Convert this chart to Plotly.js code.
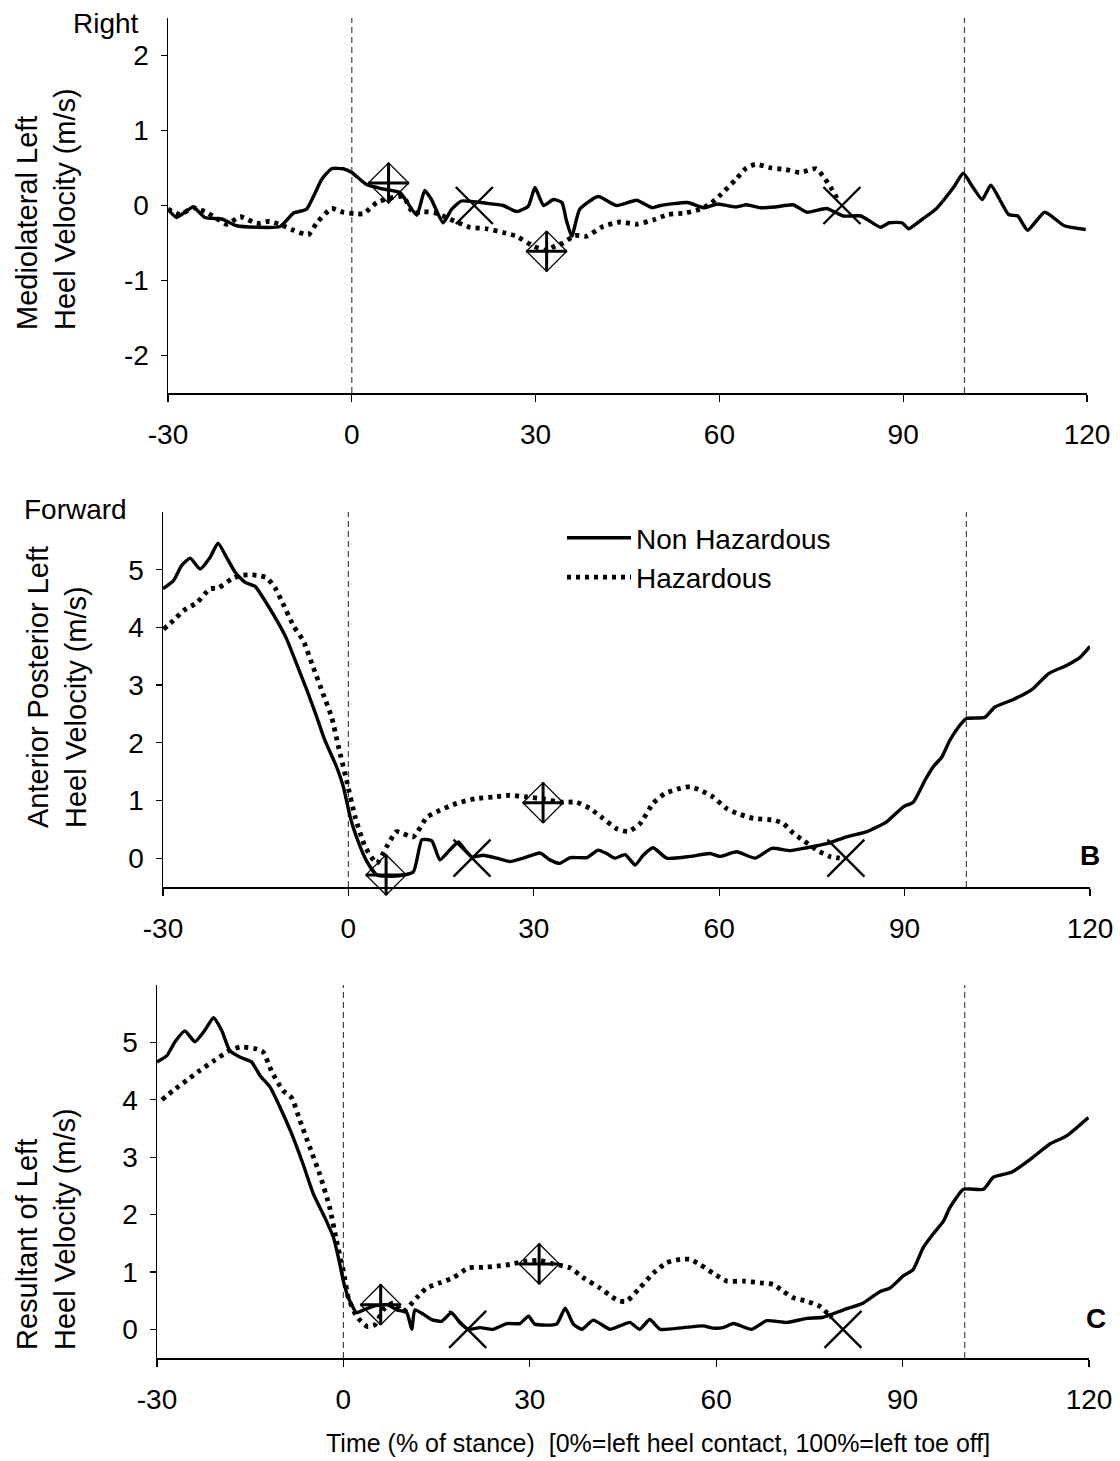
<!DOCTYPE html>
<html>
<head>
<meta charset="utf-8">
<script src="https://cdn.plot.ly/plotly-3.0.1.min.js"></script>
<style>html,body{margin:0;padding:0;background:#fff;}#chart{width:1120px;height:1461px;}</style>
</head>
<body>
<div id="chart"></div>
<script>
// ---------- DATA ----------
const xTicks = [-30, 0, 30, 60, 90, 120];
const seriesNames = ["Non Hazardous", "Hazardous"];

// Panel A: mediolateral
const A_non_x = [-30,-28.6,-25.9,-24.0,-21.2,-18.8,-11.7,-9.5,-7.4,-4.9,-3.3,-1.4,0.0,2.4,5.1,7.9,10.6,11.9,13.0,14.9,16.3,17.9,22.0,24.7,26.9,28.8,29.9,31.3,32.9,34.3,35.0,35.9,37.2,40.2,43.2,46.5,49.0,50.4,54.8,57.4,59.7,62.7,64.4,66.7,69.1,72.0,74.3,77.5,80.2,83.1,86.3,87.7,89.8,90.9,93.0,95.3,98.2,99.8,101.4,102.9,104.3,107.2,108.7,110.3,113.1,116.3,119.8];
const A_non_y = [-0.05,-0.16,-0.02,-0.16,-0.18,-0.27,-0.28,-0.10,-0.05,0.35,0.49,0.49,0.44,0.28,0.22,0.17,-0.13,0.20,0.08,-0.23,-0.05,0.06,0.03,0.00,-0.08,-0.01,0.24,0.00,0.08,0.04,-0.19,-0.41,-0.05,0.12,0.00,0.07,-0.03,0.00,0.04,-0.03,0.02,-0.02,0.01,-0.03,-0.02,0.01,-0.09,-0.04,-0.14,-0.14,-0.29,-0.23,-0.23,-0.31,-0.19,-0.05,0.24,0.43,0.24,0.08,0.27,-0.12,-0.14,-0.33,-0.09,-0.27,-0.32];
const A_haz_x = [-30,-28.0,-25.9,-24.0,-22.1,-20.4,-18.2,-15.5,-13.4,-11.2,-9.5,-7.1,-5.7,-3.3,-1.4,0.5,1.9,4.1,6.2,8.4,10.0,11.7,13.6,14.9,16.8,19.3,22.0,24.7,26.9,29.6,31.8,33.2,34.5,36.4,38.3,41.0,43.8,46.5,49.3,51.6,54.5,56.8,58.3,60.3,62.7,64.4,65.9,68.5,70.8,73.1,75.8,77.2,78.4,79.5];
const A_haz_y = [-0.05,-0.12,-0.03,-0.08,-0.17,-0.25,-0.15,-0.24,-0.21,-0.27,-0.33,-0.39,-0.23,-0.04,-0.09,-0.11,-0.11,0.04,0.10,0.12,-0.10,-0.08,-0.10,-0.14,-0.21,-0.29,-0.31,-0.36,-0.41,-0.54,-0.60,-0.54,-0.50,-0.40,-0.41,-0.28,-0.22,-0.25,-0.19,-0.12,-0.10,-0.05,0.01,0.15,0.35,0.50,0.55,0.50,0.48,0.44,0.49,0.36,0.21,0.05];
const A_peak_x = [6.0, 31.8];
const A_peak_y = [0.30, -0.61];
const A_end_x = [20, 80];
const A_end_y = [0, 0];

// Panel B: anterior posterior
const B_non_x = [-30,-28.3,-27.0,-25.6,-24.0,-22.4,-21.1,-19.7,-18.3,-16.7,-15.1,-13.2,-11.1,-10.0,-8.4,-6.7,-5.1,-3.8,-1.9,-0.8,0.3,1.3,3.0,4.6,7.8,10.5,11.9,13.5,14.8,16.4,17.8,18.9,20.0,21.8,24.0,26.1,28.3,31.0,32.6,34.2,35.9,38.6,40.4,41.8,43.1,44.8,46.4,47.7,49.3,51.5,55.3,58.5,60.1,62.8,65.8,68.5,71.5,74.2,77.4,80.6,83.9,87.1,89.8,91.4,93.3,94.6,96.0,97.3,98.7,100.0,103.0,104.6,107.6,110.8,113.3,116.2,118.4,120];
const B_non_y = [4.67,4.81,5.07,5.20,5.01,5.21,5.46,5.21,4.95,4.78,4.71,4.41,4.03,3.80,3.37,2.91,2.44,2.04,1.58,1.23,0.71,0.37,-0.06,-0.29,-0.31,-0.24,0.32,0.30,-0.03,0.14,0.28,0.14,0.02,0.05,0.00,-0.06,0.00,0.09,-0.03,-0.09,0.01,0.01,0.14,0.08,0.00,0.06,-0.12,0.05,0.18,0.00,0.03,0.08,0.03,0.11,0.00,0.17,0.13,0.18,0.25,0.37,0.46,0.63,0.89,0.97,1.35,1.58,1.75,2.04,2.27,2.42,2.44,2.62,2.75,2.94,3.20,3.34,3.48,3.67];
const B_haz_x = [-29.9,-28.3,-26.7,-24.5,-22.4,-21.1,-18.9,-17.5,-15.9,-14.6,-13.2,-11.9,-10.8,-8.9,-7.3,-5.7,-4.1,-2.7,-1.6,-0.3,1.1,2.7,4.6,6.2,7.8,10.5,12.7,14.8,17.5,20.5,23.4,26.1,28.9,31.5,34.2,36.9,39.1,41.2,43.4,45.3,47.2,49.3,51.2,53.7,55.3,56.9,59.0,61.2,62.8,65.5,68.8,70.4,72.0,73.6,75.8,77.9,79.5];
const B_haz_y = [3.97,4.12,4.29,4.43,4.67,4.68,4.84,4.90,4.91,4.90,4.86,4.69,4.46,4.03,3.77,3.31,2.85,2.44,1.93,1.35,0.71,0.20,-0.09,0.20,0.46,0.37,0.71,0.83,0.95,1.03,1.06,1.09,1.06,1.03,0.97,0.97,0.86,0.69,0.51,0.46,0.60,0.95,1.12,1.21,1.24,1.18,1.06,0.86,0.78,0.69,0.66,0.60,0.43,0.31,0.14,0.03,0.00];
const B_peak_x = [6.1, 31.5];
const B_peak_y = [-0.29, 0.96];
const B_end_x = [20, 80.5];
const B_end_y = [0, 0];

// Panel C: resultant
const C_non_x = [-30,-28.4,-27.1,-25.5,-23.9,-22.3,-20.9,-19.6,-18.3,-16.6,-14.8,-13.4,-11.8,-10.2,-8.3,-6.5,-4.8,-3.0,-1.6,-0.8,0.0,0.8,2.1,2.9,4.8,7.0,8.6,10.2,11.0,11.5,12.9,14.2,15.8,17.4,18.8,20.1,22.0,24.1,26.3,28.4,29.8,30.8,34.3,35.7,37.0,38.4,40.2,42.9,44.5,46.1,47.7,49.3,51.0,54.7,57.9,59.5,61.1,62.8,65.7,68.1,71.4,74.6,77.2,80.5,83.7,86.4,88.0,90.1,91.7,93.3,94.9,96.6,97.6,99.8,103.0,104.6,107.6,111.0,113.7,116.4,119.9];
const C_non_y = [4.66,4.77,5.01,5.20,5.01,5.21,5.43,5.21,4.86,4.74,4.66,4.42,4.22,3.87,3.40,2.88,2.35,1.95,1.60,1.25,0.84,0.55,0.29,0.32,0.40,0.43,0.34,0.29,0.00,0.34,0.26,0.17,0.14,0.29,0.11,0.00,0.03,0.00,0.10,0.10,0.23,0.09,0.09,0.37,0.09,0.00,0.16,0.00,0.06,0.12,0.00,0.17,0.00,0.03,0.06,0.02,0.03,0.10,0.00,0.15,0.12,0.19,0.21,0.34,0.46,0.66,0.72,0.93,1.04,1.42,1.66,1.89,2.12,2.44,2.44,2.65,2.74,3.00,3.23,3.37,3.69];
const C_haz_x = [-29.2,-27.4,-25.2,-23.1,-20.7,-18.3,-16.6,-14.2,-12.9,-11.5,-9.7,-8.3,-7.0,-5.4,-3.8,-2.2,-1.1,0.0,0.8,2.1,3.8,5.1,6.4,8.0,9.6,11.8,13.4,15.5,17.7,20.1,22.5,24.7,26.8,29.5,31.6,33.8,36.5,38.6,41.3,43.3,44.5,45.6,47.7,49.9,52.0,54.2,55.8,57.4,59.5,61.7,64.4,67.1,69.2,70.8,72.4,74.6,76.7,77.8,78.6];
const C_haz_y = [4.00,4.16,4.34,4.51,4.69,4.86,4.92,4.89,4.83,4.48,4.16,4.03,3.64,3.17,2.70,2.12,1.54,1.01,0.55,0.23,0.05,0.08,0.34,0.46,0.31,0.55,0.72,0.81,0.90,1.07,1.08,1.10,1.13,1.19,1.20,1.14,1.07,0.90,0.72,0.56,0.49,0.49,0.72,0.98,1.16,1.22,1.22,1.13,0.98,0.84,0.84,0.81,0.78,0.66,0.55,0.49,0.40,0.29,0.20];
const C_peak_x = [6.0, 31.5];
const C_peak_y = [0.43, 1.14];
const C_end_x = [20, 80.4];
const C_end_y = [0, 0];

const yTitles = ["Mediolateral Left<br>Heel Velocity (m/s)", "Anterior Posterior Left<br>Heel Velocity (m/s)", "Resultant of Left<br>Heel Velocity (m/s)"];
const xTitle = "Time (% of stance)\u00a0 [0%=left heel contact, 100%=left toe off]";
const directionLabels = ["Right", "Forward"];
const panelLabels = ["B", "C"];

// ---------- LAYOUT HELPERS ----------
const W = 1120, H = 1461;
const FONT = "Liberation Sans, Arial, Helvetica, sans-serif";
const fx = p => p / W;
const fy = p => 1 - p / H;

const solidLine = {color: "#000", width: 3.4, shape: "spline", smoothing: 0.5};
const dotLine = {color: "#000", width: 4.8, dash: "4px,5px", shape: "spline", smoothing: 0.5};

const panels = [
  {nx: A_non_x, ny: A_non_y, hx: A_haz_x, hy: A_haz_y, px: A_peak_x, py: A_peak_y, ex: A_end_x, ey: A_end_y},
  {nx: B_non_x, ny: B_non_y, hx: B_haz_x, hy: B_haz_y, px: B_peak_x, py: B_peak_y, ex: B_end_x, ey: B_end_y},
  {nx: C_non_x, ny: C_non_y, hx: C_haz_x, hy: C_haz_y, px: C_peak_x, py: C_peak_y, ex: C_end_x, ey: C_end_y}
];

const traces = [];
panels.forEach((p, i) => {
  const xa = i === 0 ? "x" : "x" + (i + 1);
  const ya = i === 0 ? "y" : "y" + (i + 1);
  traces.push({x: p.nx, y: p.ny, xaxis: xa, yaxis: ya, type: "scatter", mode: "lines",
    name: seriesNames[0], line: solidLine, showlegend: i === 1, legendrank: 1});
  traces.push({x: p.hx, y: p.hy, xaxis: xa, yaxis: ya, type: "scatter", mode: "lines",
    name: seriesNames[1], line: dotLine, showlegend: i === 1, legendrank: 2});
  traces.push({x: p.px, y: p.py, xaxis: xa, yaxis: ya, type: "scatter", mode: "markers",
    showlegend: false, cliponaxis: false, hoverinfo: "skip",
    marker: {symbol: "diamond-open", size: 31, color: "#000", line: {color: "#000", width: 1.3}}});
  traces.push({x: p.px, y: p.py, xaxis: xa, yaxis: ya, type: "scatter", mode: "markers",
    showlegend: false, cliponaxis: false, hoverinfo: "skip",
    marker: {symbol: "cross-thin-open", size: 29, color: "#000", line: {color: "#000", width: 3}}});
  traces.push({x: p.ex, y: p.ey, xaxis: xa, yaxis: ya, type: "scatter", mode: "markers",
    showlegend: false, cliponaxis: false, hoverinfo: "skip",
    marker: {symbol: "x-thin-open", size: 37, color: "#000", line: {color: "#000", width: 2.4}}});
});

// pixel boxes of each plot area [left, right, top, bottom]
const boxes = [[168, 1087, 18, 393], [163, 1090, 512, 887], [157, 1089, 985, 1358]];
const yRanges = [[-2.5, 2.5], [-0.5, 6], [-0.5, 6]];
const yDticks = [1, 1, 1];

function xAxis(i) {
  const b = boxes[i];
  return {
    domain: [fx(b[0]), fx(b[1])], anchor: i === 0 ? "y" : "y" + (i + 1),
    range: [-30, 120], tickvals: xTicks, ticktext: xTicks.map(String),
    showline: true, linecolor: "#000", linewidth: 2,
    ticks: "outside", ticklen: 7, tickwidth: 1.3, tickcolor: "#000",
    ticklabelstandoff: 8,
    tickfont: {family: FONT, size: 28, color: "#000"},
    showgrid: false, zeroline: false, fixedrange: true
  };
}
function yAxis(i) {
  const b = boxes[i];
  const r = yRanges[i];
  const vals = [];
  for (let v = Math.ceil(r[0]); v <= Math.floor(r[1]) - (i === 0 ? 0 : 1); v += yDticks[i]) vals.push(v);
  return {
    domain: [fy(b[3]), fy(b[2])], anchor: i === 0 ? "x" : "x" + (i + 1),
    range: r, tickvals: vals, ticktext: vals.map(String),
    showline: true, linecolor: "#000", linewidth: 1.5,
    ticks: "outside", ticklen: 6, tickwidth: 1.3, tickcolor: "#000",
    ticklabelstandoff: 6,
    tickfont: {family: FONT, size: 28, color: "#000"},
    showgrid: false, zeroline: false, fixedrange: true
  };
}

const shapes = [];
[0, 1, 2].forEach(i => {
  const xa = i === 0 ? "x" : "x" + (i + 1);
  const ya = (i === 0 ? "y" : "y" + (i + 1)) + " domain";
  [0, 100].forEach(v => shapes.push({type: "line", xref: xa, yref: ya, x0: v, x1: v, y0: 0, y1: 1,
    line: {color: "#444", width: 1.2, dash: "6px,4px"}, layer: "below"}));
});

const titleBoxes = [[46, 332], [57, 830], [46, 1352]];
const annotations = [];
yTitles.forEach((t, i) => annotations.push({
  text: t, xref: "paper", yref: "paper", x: fx(titleBoxes[i][0]), y: fy(titleBoxes[i][1]),
  xanchor: "center", yanchor: "bottom", textangle: -90, align: "left", showarrow: false,
  font: {family: FONT, size: 29, color: "#000"}
}));
annotations.push({text: directionLabels[0], xref: "paper", yref: "paper", x: fx(141), y: fy(23),
  xanchor: "right", yanchor: "middle", showarrow: false, font: {family: FONT, size: 28, color: "#000"}});
annotations.push({text: directionLabels[1], xref: "paper", yref: "paper", x: fx(129), y: fy(510),
  xanchor: "right", yanchor: "middle", showarrow: false, font: {family: FONT, size: 28, color: "#000"}});
annotations.push({text: "<b>" + panelLabels[0] + "</b>", xref: "paper", yref: "paper", x: fx(1090), y: fy(856),
  xanchor: "center", yanchor: "middle", showarrow: false, font: {family: FONT, size: 28, color: "#000"}});
annotations.push({text: "<b>" + panelLabels[1] + "</b>", xref: "paper", yref: "paper", x: fx(1096), y: fy(1318),
  xanchor: "center", yanchor: "middle", showarrow: false, font: {family: FONT, size: 28, color: "#000"}});
annotations.push({text: xTitle, xref: "paper", yref: "paper", x: fx(658), y: fy(1443),
  xanchor: "center", yanchor: "middle", showarrow: false, font: {family: FONT, size: 25, color: "#000"}});

const layout = {
  width: W, height: H,
  margin: {l: 0, r: 0, t: 0, b: 0, pad: 0},
  paper_bgcolor: "#fff", plot_bgcolor: "rgba(0,0,0,0)",
  font: {family: FONT, color: "#000"},
  showlegend: true,
  legend: {x: fx(562), y: fy(513), xanchor: "left", yanchor: "top",
    bgcolor: "rgba(0,0,0,0)", borderwidth: 0, itemwidth: 64,
    font: {family: FONT, size: 28, color: "#000"}, traceorder: "normal"},
  xaxis: xAxis(0), yaxis: yAxis(0),
  xaxis2: xAxis(1), yaxis2: yAxis(1),
  xaxis3: xAxis(2), yaxis3: yAxis(2),
  shapes: shapes, annotations: annotations
};

Plotly.newPlot("chart", traces, layout, {staticPlot: true, displayModeBar: false});
</script>
</body>
</html>
